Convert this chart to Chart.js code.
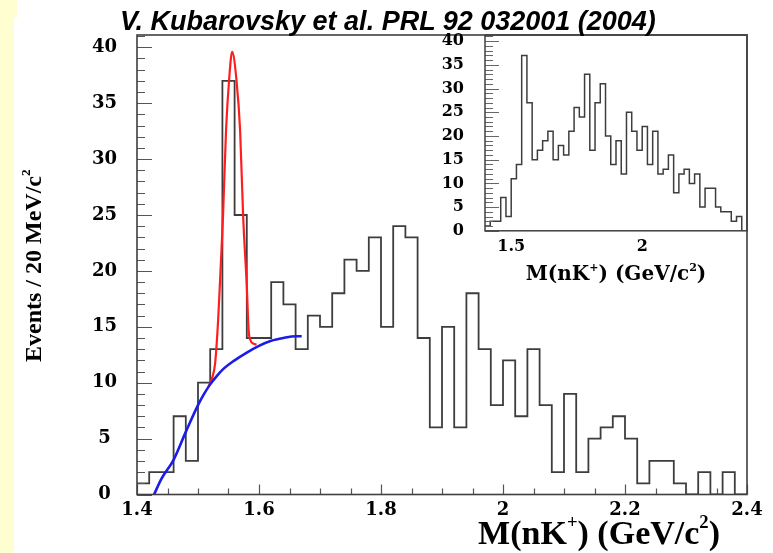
<!DOCTYPE html>
<html>
<head>
<meta charset="utf-8">
<title>M(nK+) spectrum</title>
<script src="https://cdn.jsdelivr.net/npm/chart.js@4.4.1/dist/chart.umd.min.js"></script>
<style>
  html, body { margin: 0; padding: 0; background: #fff; }
  #page { position: relative; width: 773px; height: 553px; overflow: hidden; background: #fff; }
  .strip { position: absolute; background: #fffed0; }
  canvas { position: absolute; }
  .txt { position: absolute; white-space: nowrap; color: #000; line-height: 1; }
  .head { font: italic bold 27px 'Liberation Sans', Arial, sans-serif; left: 120px; top: 6px; }
  .ytitle { font: bold 24px 'Liberation Serif', 'Times New Roman', serif; left: 18px; top: 362px;
            transform-origin: 0 0; transform: rotate(-90deg); }
  .xtitle { font: bold 34px 'Liberation Serif', 'Times New Roman', serif; right: 53px; top: 511px; }
  .ititle { font: bold 20px 'DejaVu Serif', serif; left: 616px; top: 261px; transform: translateX(-50%); }
  .sup { font-size: 0.55em; vertical-align: 0.85em; }
</style>
</head>
<body>
<div id="page">
  <div class="strip" style="left:0;top:0;width:17px;height:18px"></div>
  <div class="strip" style="left:0;top:0;width:14px;height:553px"></div>

  <canvas id="mainChart" width="773" height="553" style="left:0;top:0"></canvas>
  <canvas id="insetChart" width="330" height="300" style="left:430px;top:0"></canvas>

  <div class="txt head">V. Kubarovsky et al. PRL 92 032001 (2004)</div>
  <div class="txt ytitle">Events / 20 MeV/c<span class="sup">2</span></div>
  <div class="txt xtitle">M(nK<span class="sup">+</span>) (GeV/c<span class="sup">2</span>)</div>
  <div class="txt ititle">M(nK<span class="sup">+</span>) (GeV/c<span class="sup">2</span>)</div>
</div>

<script>
// 20 MeV/c^2 bins, 1.40 - 2.40 GeV/c^2
const binLow = 1.40;
const binWidth = 0.02;

// events per bin, main plot
const mainCounts = [1, 2, 2, 7, 3, 10, 13, 37, 25, 14,
                    14, 19, 17, 13, 16, 15, 18, 21, 20, 23,
                    15, 24, 23, 14, 6, 15, 6, 18, 13, 8,
                    12, 7, 13, 8, 2, 9, 2, 5, 6, 7,
                    5, 1, 3, 3, 1, 0, 2, 0, 2, 0];

// events per bin, inset
const insetCounts = [1, 2, 2, 7, 3, 11, 14, 37, 27, 15,
                     17, 19, 21, 15, 18, 16, 21, 26, 24, 33,
                     17, 27, 31, 20, 14, 19, 12, 25, 21, 17,
                     22, 14, 21, 12, 13, 16, 8, 12, 13, 10,
                     12, 5, 9, 9, 5, 4, 4, 2, 3, 0];

// background fit (blue)
const bgMass   = [1.428, 1.44, 1.46, 1.48, 1.50, 1.51, 1.52, 1.53, 1.54, 1.56, 1.58, 1.60, 1.62, 1.64, 1.66, 1.67];
const bgEvents = [0, 1.4, 3.1, 5.6, 8.0, 9.0, 9.85, 10.55, 11.15, 12.0, 12.7, 13.3, 13.75, 14.0, 14.15, 14.15];

// gaussian + background fit (red)
const fitMass   = [1.517, 1.523, 1.528, 1.533, 1.537, 1.541, 1.546, 1.551, 1.556,
                   1.563, 1.569, 1.574, 1.580, 1.583, 1.586, 1.591, 1.596];
const fitEvents = [9.65, 10.4, 11.7, 15.6, 20.1, 24.9, 32.6, 37.1, 39.6,
                   37.1, 32.6, 24.9, 18.6, 14.7, 13.8, 13.5, 13.4];

// labelled ticks
const mainXTicks  = [1.4, 1.6, 1.8, 2.0, 2.2, 2.4];
const mainYTicks  = [0, 5, 10, 15, 20, 25, 30, 35, 40];
const insetXTicks = [1.5, 2.0];
const insetYTicks = [0, 5, 10, 15, 20, 25, 30, 35, 40];

function histPoints(counts) {
    const pts = counts.map((c, i) => ({ x: binLow + i * binWidth, y: c }));
    pts.push({ x: binLow + counts.length * binWidth, y: 0 });
    return pts;
}

function curvePoints(xs, ys) {
    return xs.map((x, i) => ({ x: x, y: ys[i] }));
}

const tickLabel = v => String(+v.toFixed(2));

// ROOT-style frame: box round the plot area, tick marks pointing inwards
const axisFrame = {
    id: 'axisFrame',
    afterDatasetsDraw(chart, args, o) {
        const { ctx, chartArea: a, scales: { x, y } } = chart;
        const isMajor = (v, list) => list.some(t => Math.abs(t - v) < 1e-6);
        ctx.save();
        ctx.strokeStyle = o.tickColor;
        ctx.lineWidth = 1.2;
        ctx.beginPath();
        for (let k = 0; k * o.yStep <= y.max + 1e-9; k++) {
            const v = k * o.yStep;
            const py = Math.round(y.getPixelForValue(v)) + 0.5;
            const len = isMajor(v, o.yMajor) ? o.yMajorLen : o.yMinorLen;
            ctx.moveTo(a.left, py);
            ctx.lineTo(a.left + len, py);
        }
        for (let k = 0; x.min + k * o.xStep <= x.max + 1e-9; k++) {
            const v = x.min + k * o.xStep;
            const major = isMajor(v, o.xMajor);
            if (!major && !o.xMinorLen) continue;
            const px = Math.round(x.getPixelForValue(v)) + 0.5;
            const len = major ? o.xMajorLen : o.xMinorLen;
            ctx.moveTo(px, a.bottom);
            ctx.lineTo(px, a.bottom - len);
        }
        ctx.stroke();
        ctx.strokeStyle = o.frameColor;
        ctx.lineWidth = o.frameWidth;
        ctx.strokeRect(a.left, a.top, a.right - a.left, a.bottom - a.top);
        ctx.restore();
    }
};

function fixedScale(size, horizontal) {
    return s => {
        if (horizontal) s.height = size; else s.width = size;
        s.paddingLeft = s.paddingRight = s.paddingTop = s.paddingBottom = 0;
    };
}

const tickFont = size => ({ family: "'DejaVu Serif', serif", weight: 'bold', size: size });
const noGrid = { display: false, drawTicks: false };

// main histogram with fits
new Chart(document.getElementById('mainChart'), {
    type: 'line',
    data: {
        datasets: [
            {
                label: 'bg', data: curvePoints(bgMass, bgEvents),
                borderColor: '#1c1ce8', borderWidth: 2.6, pointRadius: 0,
                cubicInterpolationMode: 'monotone', fill: false
            },
            {
                label: 'fit', data: curvePoints(fitMass, fitEvents),
                borderColor: '#ff1e1e', borderWidth: 2.2, pointRadius: 0,
                cubicInterpolationMode: 'monotone', fill: false
            },
            {
                label: 'data', data: histPoints(mainCounts),
                borderColor: '#3d3d3d', borderWidth: 1.8, pointRadius: 0,
                stepped: 'before', fill: false
            }
        ]
    },
    options: {
        responsive: false, animation: false, events: [],
        layout: { padding: { left: 0, top: 35, right: 26, bottom: 0 } },
        plugins: {
            legend: { display: false }, tooltip: { enabled: false },
            axisFrame: {
                frameColor: '#404040', frameWidth: 1.6, tickColor: '#555',
                yStep: 1, yMajor: mainYTicks, yMajorLen: 15, yMinorLen: 8,
                xStep: 0.05, xMajor: mainXTicks, xMajorLen: 10, xMinorLen: 6
            }
        },
        scales: {
            x: {
                type: 'linear', min: 1.4, max: 2.4,
                grid: noGrid, border: { display: false },
                afterBuildTicks: s => { s.ticks = mainXTicks.map(v => ({ value: v })); },
                afterFit: fixedScale(58.5, true),
                ticks: { font: tickFont(18), color: '#000', padding: 5, maxRotation: 0, autoSkip: false, callback: tickLabel }
            },
            y: {
                type: 'linear', min: 0, max: 41.1,
                grid: noGrid, border: { display: false },
                afterBuildTicks: s => { s.ticks = mainYTicks.map(v => ({ value: v })); },
                afterFit: fixedScale(137, false),
                ticks: { font: tickFont(18), color: '#000', padding: 20, crossAlign: 'center', autoSkip: false, callback: tickLabel }
            }
        }
    },
    plugins: [axisFrame]
});

// inset: histogram without fit
new Chart(document.getElementById('insetChart'), {
    type: 'line',
    data: {
        datasets: [{
            label: 'data', data: histPoints(insetCounts),
            borderColor: '#3d3d3d', borderWidth: 1.5, pointRadius: 0,
            stepped: 'before', fill: false
        }]
    },
    options: {
        responsive: false, animation: false, events: [],
        layout: { padding: { left: 0, top: 35, right: 13, bottom: 0 } },
        plugins: {
            legend: { display: false }, tooltip: { enabled: false },
            axisFrame: {
                frameColor: '#404040', frameWidth: 1.5, tickColor: '#666',
                yStep: 1, yMajor: insetYTicks, yMajorLen: 14, yMinorLen: 8,
                xStep: 0.5, xMajor: insetXTicks, xMajorLen: 9, xMinorLen: 0
            }
        },
        scales: {
            x: {
                type: 'linear', min: 1.4, max: 2.4,
                grid: noGrid, border: { display: false },
                afterBuildTicks: s => { s.ticks = insetXTicks.map(v => ({ value: v })); },
                afterFit: fixedScale(69.2, true),
                ticks: { font: tickFont(16), color: '#000', padding: 6, maxRotation: 0, autoSkip: false, callback: tickLabel }
            },
            y: {
                type: 'linear', min: 0, max: 41.3,
                grid: noGrid, border: { display: false },
                afterBuildTicks: s => { s.ticks = insetYTicks.map(v => ({ value: v })); },
                afterFit: fixedScale(55, false),
                ticks: { font: tickFont(16), color: '#000', padding: 21, crossAlign: 'near', autoSkip: false, callback: tickLabel }
            }
        }
    },
    plugins: [axisFrame]
});
</script>
</body>
</html>
